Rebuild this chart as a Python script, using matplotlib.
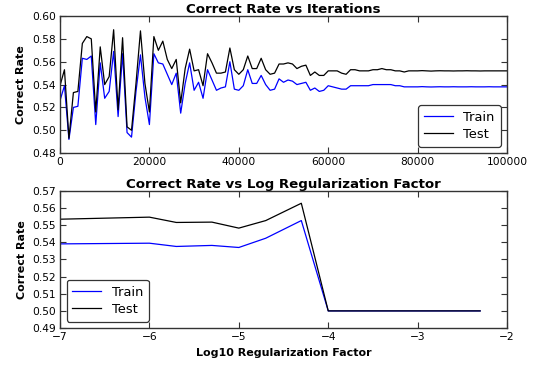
import numpy as np
import matplotlib
matplotlib.use("Agg")
import matplotlib.pyplot as plt

iterations = list(range(0, 101000, 1000))
test_iter = [0.539, 0.553, 0.493, 0.533, 0.534, 0.576, 0.582, 0.580, 0.516, 0.573,
             0.540, 0.547, 0.588, 0.518, 0.581, 0.503, 0.500, 0.541, 0.587, 0.541,
             0.516, 0.582, 0.570, 0.578, 0.562, 0.554, 0.562, 0.524, 0.554, 0.571,
             0.552, 0.553, 0.539, 0.567, 0.559, 0.550, 0.550, 0.551, 0.572, 0.553,
             0.549, 0.553, 0.565, 0.554, 0.554, 0.563, 0.553, 0.549, 0.550, 0.558,
             0.558, 0.559, 0.558, 0.554, 0.556, 0.557, 0.548, 0.551, 0.548, 0.548,
             0.552, 0.552, 0.552, 0.550, 0.549, 0.553, 0.553, 0.552, 0.552, 0.552,
             0.553, 0.553, 0.554, 0.553, 0.553, 0.552, 0.552, 0.551, 0.552, 0.552,
             0.552, 0.5522, 0.552, 0.5518, 0.552, 0.5521, 0.552, 0.552, 0.5519, 0.552,
             0.552, 0.5521, 0.552, 0.552, 0.5519, 0.552, 0.552, 0.552, 0.552, 0.552,
             0.552]
train_iter = [0.526, 0.539, 0.492, 0.520, 0.521, 0.563, 0.562, 0.565, 0.505, 0.559,
              0.528, 0.534, 0.569, 0.512, 0.567, 0.498, 0.494, 0.534, 0.566, 0.529,
              0.505, 0.567, 0.559, 0.558, 0.549, 0.540, 0.550, 0.515, 0.541, 0.559,
              0.535, 0.542, 0.528, 0.553, 0.544, 0.535, 0.537, 0.538, 0.560, 0.536,
              0.535, 0.539, 0.553, 0.541, 0.541, 0.548, 0.540, 0.535, 0.536, 0.545,
              0.542, 0.544, 0.543, 0.540, 0.541, 0.542, 0.535, 0.537, 0.534, 0.535,
              0.539, 0.538, 0.537, 0.536, 0.536, 0.539, 0.539, 0.539, 0.539, 0.539,
              0.540, 0.540, 0.540, 0.540, 0.540, 0.539, 0.539, 0.538, 0.538, 0.538,
              0.538, 0.5382, 0.538, 0.5379, 0.538, 0.5381, 0.538, 0.538, 0.5381, 0.538,
              0.538, 0.538, 0.5381, 0.538, 0.538, 0.538, 0.5381, 0.538, 0.538, 0.538,
              0.538]

reg_factors = [1e-7, 1e-6, 2e-6, 5e-6, 1e-5, 2e-5, 5e-5, 1e-4, 2e-4, 5e-4, 1e-3, 2e-3, 5e-3]
log_reg = list(np.log10(reg_factors))
train_reg = [0.5391, 0.5395, 0.5376, 0.5382, 0.5370, 0.5424, 0.5527, 0.500, 0.500, 0.500, 0.500, 0.500, 0.500]
test_reg = [0.5535, 0.5547, 0.5516, 0.5518, 0.5483, 0.5527, 0.5628, 0.500, 0.500, 0.500, 0.500, 0.500, 0.500]

top_yticks = [0.48, 0.50, 0.52, 0.54, 0.56, 0.58, 0.60]
top_xticks = [0, 20000, 40000, 60000, 80000, 100000]
bot_yticks = [0.49, 0.50, 0.51, 0.52, 0.53, 0.54, 0.55, 0.56, 0.57]
bot_xticks = [-7, -6, -5, -4, -3, -2]

plt.rcParams['font.family'] = ['DejaVu Sans']
fig = plt.figure(figsize=(5.38, 3.69), dpi=100, facecolor='white')
ax1 = fig.add_axes([0.1115, 0.585, 0.831, 0.3716])
ax2 = fig.add_axes([0.1115, 0.111, 0.831, 0.3716])

tick_fs = 7.7
leg_fs = 9.4
title_fs = 9.6
label_fs = 8.0

def style(ax):
    for s in ax.spines.values():
        s.set_color('#333333')
        s.set_linewidth(1.0)
    ax.tick_params(direction='in', top=True, right=True, length=4, width=0.8,
                   labelsize=tick_fs, pad=3, color='#333333')

ax1.plot(iterations, train_iter, color='blue', lw=0.9, label='Train')
ax1.plot(iterations, test_iter, color='black', lw=0.9, label='Test')
ax1.set_xlim(0, 100000)
ax1.set_ylim(0.48, 0.60)
ax1.set_yticks(top_yticks)
ax1.set_yticklabels(['%.2f' % v for v in top_yticks])
ax1.set_xticks(top_xticks)
ax1.set_xticklabels([str(v) for v in top_xticks])
ax1.set_title('Correct Rate vs Iterations', fontsize=title_fs, fontweight='bold', pad=2)
ax1.set_ylabel('Correct Rate', fontsize=label_fs, fontweight='bold')
style(ax1)
l1 = ax1.legend(loc='lower right', fontsize=leg_fs, fancybox=True, framealpha=1,
                edgecolor='#333333', handlelength=2.2, borderpad=0.45, labelspacing=0.3)
l1.get_frame().set_linewidth(0.9)

ax2.plot(log_reg, train_reg, color='blue', lw=0.9, label='Train')
ax2.plot(log_reg, test_reg, color='black', lw=0.9, label='Test')
ax2.set_xlim(-7, -2)
ax2.set_ylim(0.49, 0.57)
ax2.set_yticks(bot_yticks)
ax2.set_yticklabels(['%.2f' % v for v in bot_yticks])
ax2.set_xticks(bot_xticks)
ax2.set_xticklabels(['\u2212%d' % abs(v) for v in bot_xticks])
ax2.set_title('Correct Rate vs Log Regularization Factor', fontsize=title_fs, fontweight='bold', pad=2)
ax2.set_ylabel('Correct Rate', fontsize=label_fs, fontweight='bold')
ax2.set_xlabel('Log10 Regularization Factor', fontsize=label_fs, fontweight='bold')
style(ax2)
l2 = ax2.legend(loc='lower left', fontsize=leg_fs, fancybox=True, framealpha=1,
                edgecolor='#333333', handlelength=2.2, borderpad=0.45, labelspacing=0.3)
l2.get_frame().set_linewidth(0.9)

fig.savefig('out.png', dpi=100, facecolor='white')
